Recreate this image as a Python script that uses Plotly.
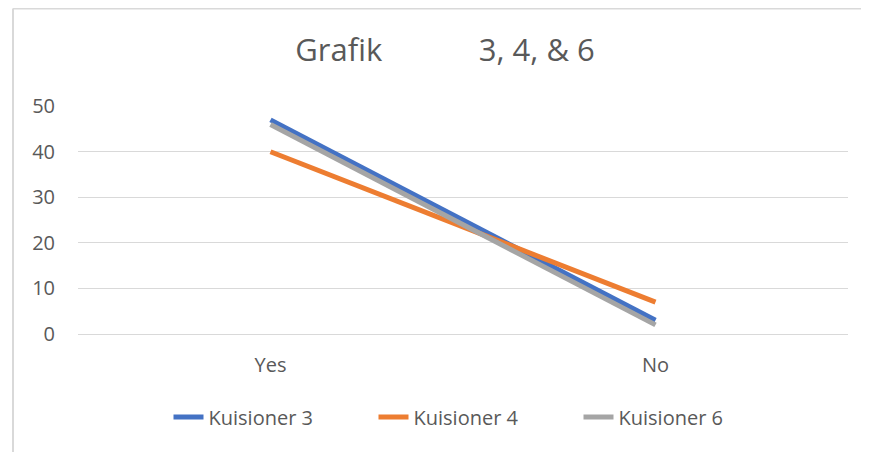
import plotly.graph_objects as go

categories = ["Yes", "No"]
kuisioner_3 = [47, 3]
kuisioner_4 = [40, 7]
kuisioner_6 = [46, 2]
y_ticks = [0, 10, 20, 30, 40, 50]

# page has an 8px body margin; figure coordinates are offset accordingly
OFF = 8
W, H = 869 - OFF, 452 - OFF
L, T = 78 - OFF, 106 - OFF
pw, ph = 770, 228
R, B = W - L - pw, H - T - ph

fig = go.Figure()
for name, vals, col in [("Kuisioner 3", kuisioner_3, "#4472C4"),
                        ("Kuisioner 4", kuisioner_4, "#ED7D31"),
                        ("Kuisioner 6", kuisioner_6, "#A5A5A5")]:
    fig.add_trace(go.Scatter(x=categories, y=vals, name=name, mode="lines",
                             line=dict(color=col, width=5)))

font_family = "Open Sans, Liberation Sans, sans-serif"
fig.update_layout(
    width=W, height=H,
    margin=dict(l=L, r=R, t=T, b=B),
    paper_bgcolor="white", plot_bgcolor="white",
    font=dict(family=font_family, color="#595959", size=20),
    title=dict(text="Grafik\u00a0\u00a0\u00a0\u00a0\u00a0\u00a0\u00a0\u00a0\u00a0\u00a0\u00a0\u00a03, 4, & 6",
               x=(445 - OFF) / W, xanchor="center", y=1 - (50 - OFF) / H, yanchor="middle",
               font=dict(size=31, color="#595959", family=font_family)),
    xaxis=dict(type="category", range=[-0.5, 1.5], showgrid=False, zeroline=False,
               showline=False, ticks="", ticklabelstandoff=17, tickfont=dict(size=20)),
    yaxis=dict(range=[0, 50.05], tickvals=y_ticks, showgrid=True, gridcolor="#D9D9D9",
               gridwidth=1, zeroline=True, zerolinecolor="#D9D9D9", zerolinewidth=1,
               showline=False, ticks="", ticklabelstandoff=22, tickfont=dict(size=20)),
    legend=dict(orientation="h", x=(476 - OFF - L) / pw, xanchor="center",
                y=(ph - (417 - OFF - T)) / ph, yanchor="middle",
                font=dict(size=20), entrywidth=160, tracegroupgap=0),
    showlegend=True,
)
# chart border (top and left edges visible in reference)
fig.add_shape(type="line", xref="paper", yref="paper",
              x0=(13 - OFF - L) / pw, x1=(W - L) / pw, y0=1 + (T - 0.5) / ph, y1=1 + (T - 0.5) / ph,
              line=dict(color="#D9D9D9", width=2))
fig.add_shape(type="line", xref="paper", yref="paper",
              x0=(13 - OFF - L) / pw, x1=(13 - OFF - L) / pw, y0=1 + (T - 0.5) / ph, y1=-(B) / ph,
              line=dict(color="#D9D9D9", width=2))

fig.write_html("out.html")
